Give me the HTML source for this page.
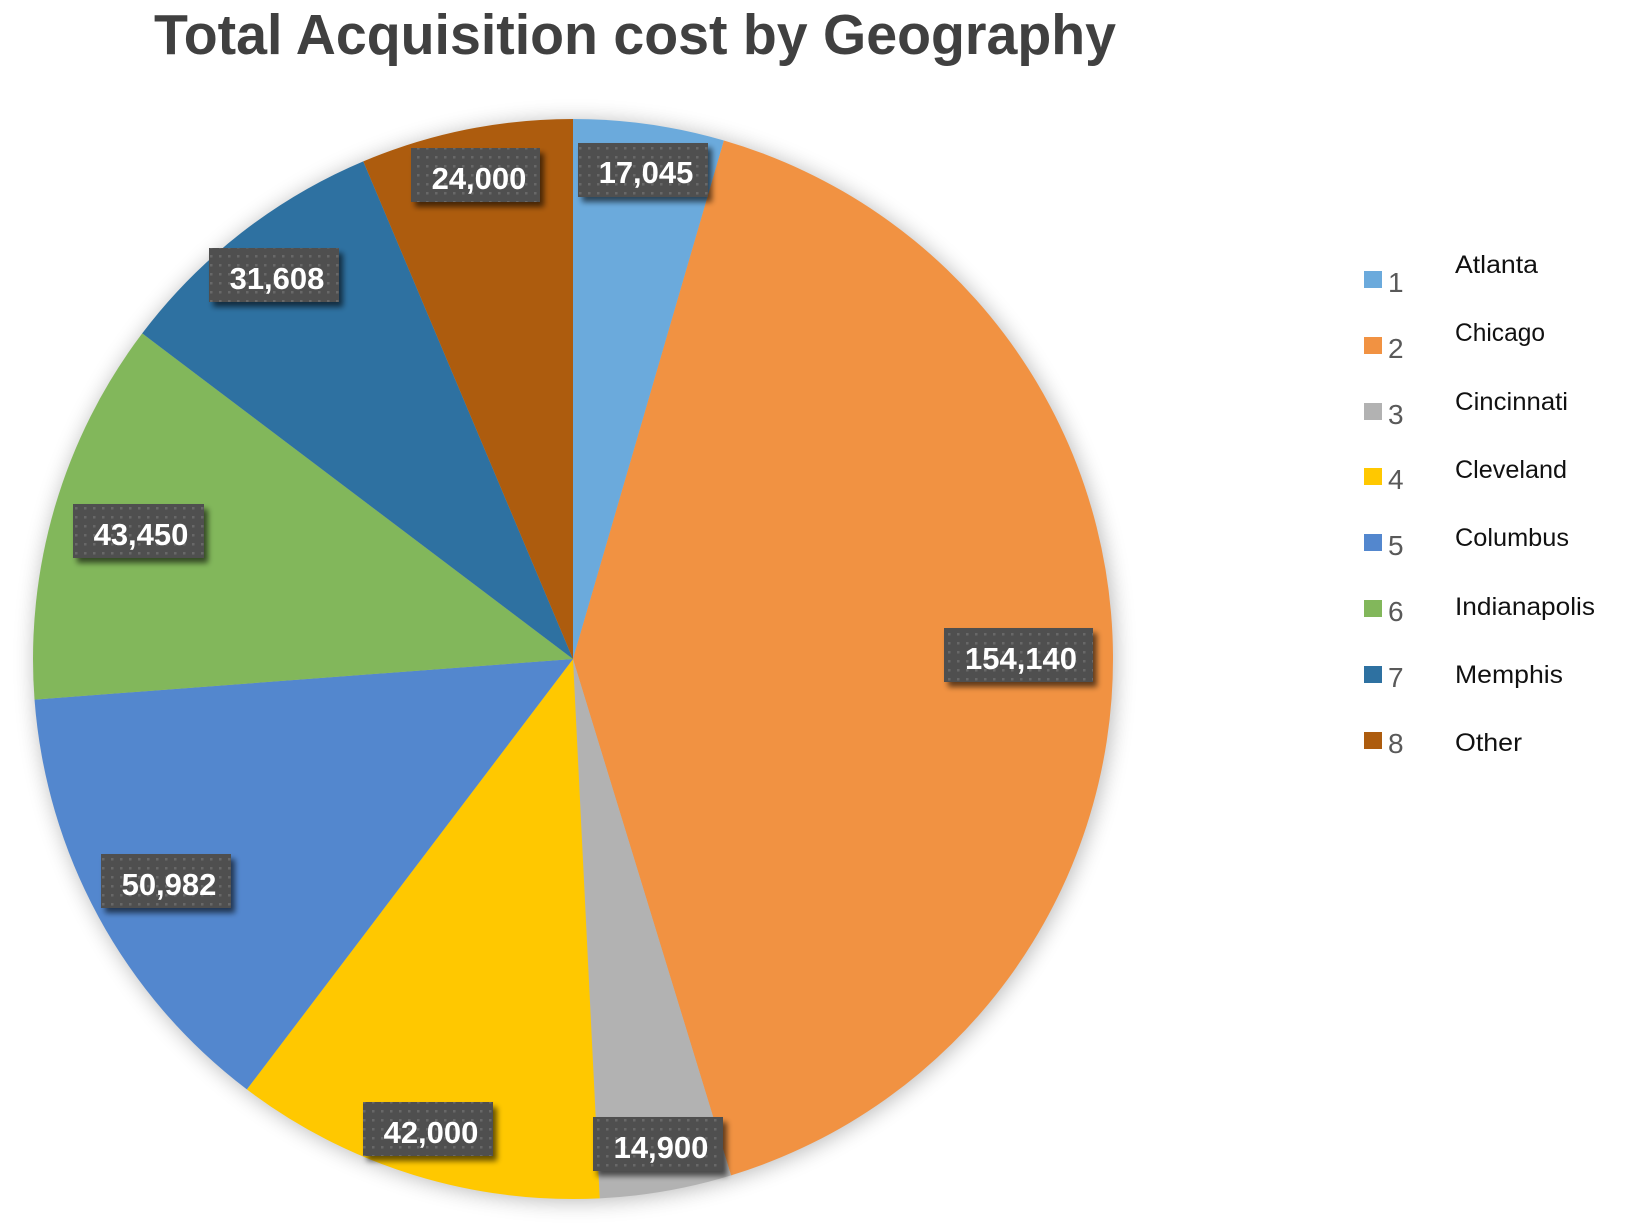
<!DOCTYPE html>
<html>
<head>
<meta charset="utf-8">
<style>
  html,body{margin:0;padding:0;background:#fff;}
  svg{display:block;}
</style>
</head>
<body>
<svg width="1627" height="1228" viewBox="0 0 1627 1228" xmlns="http://www.w3.org/2000/svg">
  <defs>
    <filter id="pieShadow" x="-20%" y="-20%" width="140%" height="140%">
      <feGaussianBlur stdDeviation="11"/>
    </filter>
    <filter id="boxShadow" x="-20%" y="-30%" width="150%" height="170%">
      <feGaussianBlur in="SourceAlpha" stdDeviation="3"/>
      <feOffset dx="4" dy="5" result="b"/>
      <feComponentTransfer in="b" result="c"><feFuncA type="linear" slope="0.6"/></feComponentTransfer>
      <feMerge><feMergeNode in="c"/><feMergeNode in="SourceGraphic"/></feMerge>
    </filter>
    <pattern id="dots" x="0" y="0" width="9" height="9" patternUnits="userSpaceOnUse">
      <rect width="9" height="9" fill="#505050"/>
      <rect x="3" y="3" width="2.5" height="2.5" fill="#676767"/>
    </pattern>
  </defs>

  <rect width="1627" height="1228" fill="#ffffff"/>

  <!-- Title -->
  <text x="154" y="54" font-family="Liberation Sans, sans-serif" font-weight="bold" font-size="57" fill="#404040" textLength="962" lengthAdjust="spacingAndGlyphs">Total Acquisition cost by Geography</text>

  <!-- Pie shadow -->
  <circle cx="575" cy="661" r="540" fill="#000" opacity="0.28" filter="url(#pieShadow)"/>

  <!-- Pie slices -->
  <path d="M573,659 L573,119 A540,540 0 0 1 723.90,140.51 Z" fill="#6BAADC"/>
  <path d="M573,659 L723.90,140.51 A540,540 0 0 1 731.06,1175.35 Z" fill="#F19242"/>
  <path d="M573,659 L731.06,1175.35 A540,540 0 0 1 599.71,1198.34 Z" fill="#B2B2B2"/>
  <path d="M573,659 L599.71,1198.34 A540,540 0 0 1 246.88,1089.40 Z" fill="#FFC800"/>
  <path d="M573,659 L246.88,1089.40 A540,540 0 0 1 34.53,699.58 Z" fill="#5387CE"/>
  <path d="M573,659 L34.53,699.58 A540,540 0 0 1 142.20,333.40 Z" fill="#82B75B"/>
  <path d="M573,659 L142.20,333.40 A540,540 0 0 1 363.30,161.38 Z" fill="#2E71A1"/>
  <path d="M573,659 L363.30,161.38 A540,540 0 0 1 573,119 Z" fill="#AD5C0E"/>

  <!-- Data labels -->
  <g font-family="Liberation Sans, sans-serif" font-weight="bold" font-size="31" fill="#ffffff" text-anchor="middle">
    <g filter="url(#boxShadow)"><rect x="578" y="143" width="130" height="54" fill="url(#dots)"/></g>
    <text x="646" y="183">17,045</text>

    <g filter="url(#boxShadow)"><rect x="944" y="628" width="149" height="54" fill="url(#dots)"/></g>
    <text x="1021" y="669">154,140</text>

    <g filter="url(#boxShadow)"><rect x="593" y="1117" width="130" height="54" fill="url(#dots)"/></g>
    <text x="661" y="1158">14,900</text>

    <g filter="url(#boxShadow)"><rect x="363" y="1102" width="130" height="54" fill="url(#dots)"/></g>
    <text x="431" y="1143">42,000</text>

    <g filter="url(#boxShadow)"><rect x="101" y="854" width="130" height="54" fill="url(#dots)"/></g>
    <text x="169" y="895">50,982</text>

    <g filter="url(#boxShadow)"><rect x="73" y="504" width="131" height="54" fill="url(#dots)"/></g>
    <text x="141" y="545">43,450</text>

    <g filter="url(#boxShadow)"><rect x="209" y="248" width="130" height="54" fill="url(#dots)"/></g>
    <text x="277" y="289">31,608</text>

    <g filter="url(#boxShadow)"><rect x="411" y="148" width="129" height="54" fill="url(#dots)"/></g>
    <text x="479" y="189">24,000</text>
  </g>

  <!-- Legend squares -->
  <rect x="1364" y="271" width="18" height="17" fill="#6BAADC"/>
  <rect x="1364" y="337" width="18" height="17" fill="#F19242"/>
  <rect x="1364" y="403" width="18" height="17" fill="#B2B2B2"/>
  <rect x="1364" y="468" width="18" height="17" fill="#FFC800"/>
  <rect x="1364" y="534" width="18" height="17" fill="#5387CE"/>
  <rect x="1364" y="600" width="18" height="17" fill="#82B75B"/>
  <rect x="1364" y="666" width="18" height="17" fill="#2E71A1"/>
  <rect x="1364" y="732" width="18" height="17" fill="#AD5C0E"/>

  <!-- Legend numbers -->
  <g font-family="Liberation Sans, sans-serif" font-size="28" fill="#595959">
    <text x="1388" y="292">1</text>
    <text x="1388" y="358">2</text>
    <text x="1388" y="424">3</text>
    <text x="1388" y="489">4</text>
    <text x="1388" y="555">5</text>
    <text x="1388" y="621">6</text>
    <text x="1388" y="687">7</text>
    <text x="1388" y="753">8</text>
  </g>

  <!-- Legend labels -->
  <g font-family="Liberation Sans, sans-serif" font-size="25" fill="#111111">
    <text x="1455" y="273" textLength="83" lengthAdjust="spacingAndGlyphs">Atlanta</text>
    <text x="1455" y="341" textLength="90" lengthAdjust="spacingAndGlyphs">Chicago</text>
    <text x="1455" y="410" textLength="113" lengthAdjust="spacingAndGlyphs">Cincinnati</text>
    <text x="1455" y="478" textLength="112" lengthAdjust="spacingAndGlyphs">Cleveland</text>
    <text x="1455" y="546" textLength="114" lengthAdjust="spacingAndGlyphs">Columbus</text>
    <text x="1455" y="615" textLength="140" lengthAdjust="spacingAndGlyphs">Indianapolis</text>
    <text x="1455" y="683" textLength="108" lengthAdjust="spacingAndGlyphs">Memphis</text>
    <text x="1455" y="751" textLength="67" lengthAdjust="spacingAndGlyphs">Other</text>
  </g>
</svg>
</body>
</html>
